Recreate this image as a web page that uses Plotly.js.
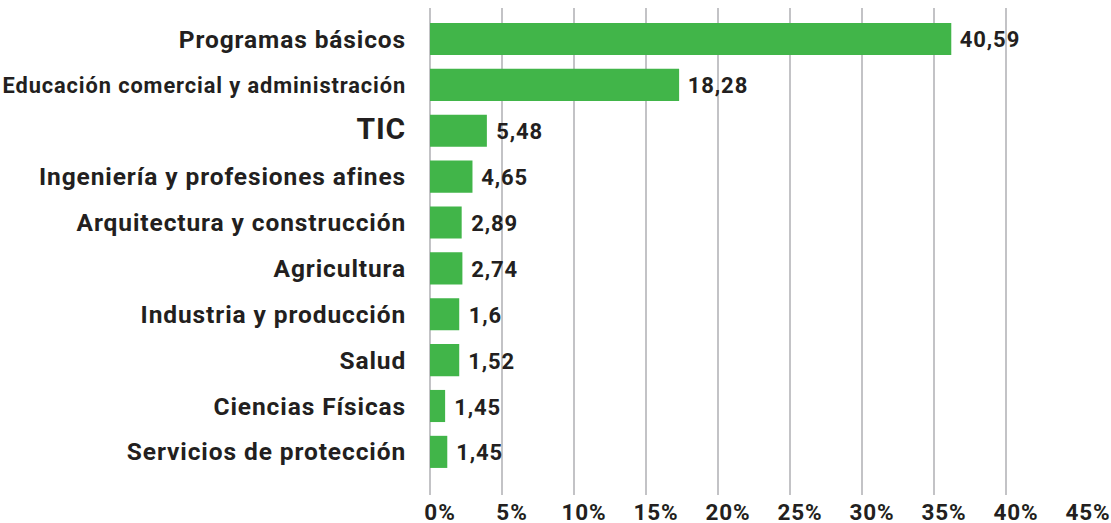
<!DOCTYPE html>
<html>
<head>
<meta charset="utf-8">
<script src="https://cdn.plot.ly/plotly-3.0.1.min.js"></script>
<style>
  html, body { margin: 0; padding: 0; background: #fff; }
  #chart { width: 1111px; height: 523px; }
  #chart .xtick text, #chart .ytick text, #chart .annotation-text { letter-spacing: 0.9px; }
</style>
</head>
<body>
<div id="chart"></div>
<script>
// categories top to bottom
var categories = [
    "Programas básicos",
    "Educación comercial y administración",
    "TIC",
    "Ingeniería y profesiones afines",
    "Arquitectura y construcción",
    "Agricultura",
    "Industria y producción",
    "Salud",
    "Ciencias Físicas",
    "Servicios de protección"
];
// bar lengths as drawn in the picture (%)
var barValues = [36.2, 17.3, 3.95, 2.95, 2.2, 2.25, 2.03, 2.03, 1.05, 1.2];
// value labels printed next to the bars
var valueLabels = ["40,59", "18,28", "5,48", "4,65", "2,89", "2,74", "1,6", "1,52", "1,45", "1,45"];
var xTicks = [0, 5, 10, 15, 20, 25, 30, 35, 40, 45];

// TIC is printed bigger, the long one squeezed a bit
var tickText = categories.map(function (c) {
    if (c === "TIC") return '<span style="font-size:30px">' + c + '</span>';
    if (c.length > 33) return '<span style="font-size:21.8px">' + c + '</span>';
    return c;
});

var fontFam = "Roboto, 'DejaVu Sans', sans-serif";
var dark = "#231f20";

// value labels as annotations so they can sit a bit off the bar end
var labelNotes = valueLabels.map(function (t, i) {
    return {
        x: barValues[i],
        y: categories[i],
        xref: "x",
        yref: "y",
        text: t,
        showarrow: false,
        xanchor: "left",
        yanchor: "middle",
        xshift: 9,
        yshift: -1,
        font: { family: fontFam, size: 22, color: dark, weight: 700 }
    };
});

var data = [{
    type: "bar",
    orientation: "h",
    y: categories,
    x: barValues,
    marker: { color: "#41b549" },
    hoverinfo: "x+y"
}];

var layout = {
    width: 1111,
    height: 523,
    margin: { l: 430, r: 33, t: 8, b: 28 },
    paper_bgcolor: "#ffffff",
    plot_bgcolor: "#ffffff",
    showlegend: false,
    bargap: 0.3,
    font: { family: fontFam, color: dark, weight: 700 },
    annotations: labelNotes,
    xaxis: {
        range: [0, 45],
        tickvals: xTicks,
        ticktext: xTicks.map(function (v) { return v + "%"; }),
        tickfont: { family: fontFam, size: 22.5, color: dark, weight: 700 },
        showgrid: true,
        gridcolor: "#c3c3c6",
        gridwidth: 2,
        zeroline: true,
        zerolinecolor: "#c3c3c6",
        zerolinewidth: 2,
        showline: false,
        ticks: "",
        ticklabelshift: 10,
        ticklabelstandoff: 1
    },
    yaxis: {
        type: "category",
        tickvals: categories,
        ticktext: tickText,
        range: [9.94, -0.675],
        tickfont: { family: fontFam, size: 24.5, color: dark, weight: 700 },
        showgrid: false,
        zeroline: false,
        showline: false,
        ticks: "outside",
        ticklen: 18,
        tickcolor: "rgba(0,0,0,0)"
    }
};

Plotly.newPlot("chart", data, layout, { displayModeBar: false, staticPlot: true });
</script>
</body>
</html>
